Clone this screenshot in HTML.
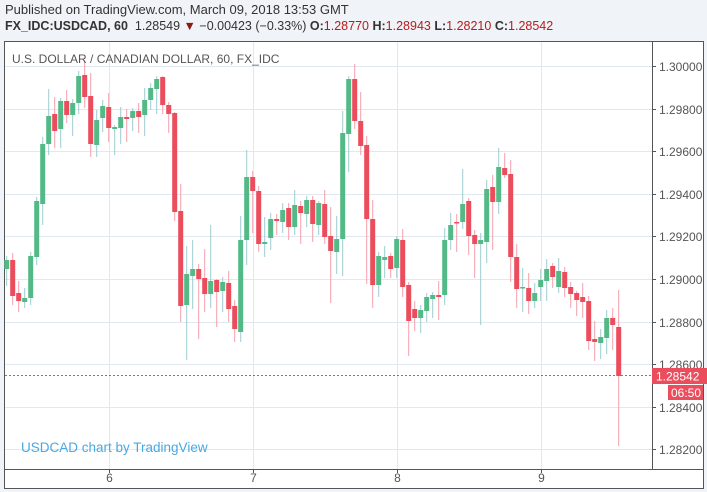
<!DOCTYPE html>
<html><head><meta charset="utf-8"><style>
body{margin:0;width:707px;height:492px;background:#f0f3f7;overflow:hidden;font-family:"Liberation Sans",sans-serif}
.h1{position:absolute;left:5px;top:2px;font-size:13px;color:#333}
.h2{position:absolute;left:5px;top:19px;font-size:12.5px;color:#333}
.r{color:#b71c1c}
</style></head><body>
<div class="h1">Published on TradingView.com, March 09, 2018 13:53 GMT</div>
<div class="h2"><b>FX_IDC:USDCAD, 60</b>&nbsp; 1.28549 <span style="color:#8b1a10">▼</span> −0.00423 (−0.33%) <b>O:</b><span class="r">1.28770</span> <b>H:</b><span class="r">1.28943</span> <b>L:</b><span class="r">1.28210</span> <b>C:</b><span class="r">1.28542</span></div>
<svg id="s" width="707" height="492" style="position:absolute;left:0;top:0" xmlns="http://www.w3.org/2000/svg">
<rect x="4.5" y="41.5" width="699" height="447" fill="#fff" stroke="#555" stroke-width="1"/>
<g id="grid" stroke="#e1e8ef" stroke-width="1"></g>
<g id="c"></g>
<line x1="5" y1="375.5" x2="652" y2="375.5" stroke="#e24b57" stroke-dasharray="2,2"/>
<line x1="652.5" y1="41" x2="652.5" y2="469" stroke="#555"/>
<line x1="5" y1="469.5" x2="703" y2="469.5" stroke="#555"/>
<g id="ax" font-size="12" fill="#555" font-family="Liberation Sans, sans-serif"></g>
<text x="12" y="63" font-size="12" fill="#555">U.S. DOLLAR / CANADIAN DOLLAR, 60, FX_IDC</text>
<text x="21" y="452" font-size="13.5" fill="#4aa8e0">USDCAD chart by TradingView</text>
<rect x="652" y="368" width="55" height="16" fill="#eb4d5c"/>
<text x="656" y="380.5" font-size="12" fill="#fff">1.28542</text>
<rect x="668" y="385" width="35" height="15" fill="#eb4d5c"/>
<text x="671" y="397" font-size="12" fill="#fff">06:50</text>
</svg>
<script>
var d=[
"G260 269 256 286","R260 296 253 305","R293 301 281 312","G298 302 288 308","G256 298 252 305","G201 257 197 265","G144 204 137 225","G116 144 89 155","R114 131 97 148","G101 129 98 148",
"R101 115 90 123","G103 115 99 136","G76 103 71 114","R75 97 60 108","R96 144 73 157","G120 145 110 157","G106 118 100 132","R107 128 93 142","G127 129 125 155","G117 128 107 144",
"R117 119 109 142","G111 118 108 131","R111 117 103 133","G100 115 88 136","G88 100 83 110","G79 89 76 114","R77 105 76 114","R105 114 102 133","R113 212 112 221","R211 306 184 322",
"G274 305 246 360","G269 276 240 309","R269 279 264 339","R278 294 249 312","G281 294 225 308","R280 292 279 327","G282 291 277 312","R283 309 271 322","R306 329 300 342","G240 332 216 342",
"G177 240 150 265","R177 191 171 233","R191 244 186 252","G242 244 217 257","G219 238 213 250","R219 221 214 235","G210 222 203 233","R208 227 203 240","G205 227 190 235","R206 213 201 244",
"G200 214 196 227","R200 224 196 242","G203 225 201 235","R204 237 190 244","R236 251 207 303","G239 252 216 274","G133 239 111 276","G79 134 76 172","R79 121 64 129","R121 146 92 155",
"R145 219 136 284","R219 285 200 308","G256 285 252 297","G257 260 246 278","R256 269 253 278","G239 268 236 278","R240 287 229 297","R285 321 282 356","R309 318 301 331","G310 318 305 333",
"G297 311 293 322","G295 299 292 318","R295 297 281 320","G240 295 228 305","G225 240 213 250","R222 223 214 252","G204 222 169 229","R201 236 198 255","R235 244 230 278","G240 244 233 325",
"G189 242 180 263","R187 202 175 250","G167 202 148 214","R168 175 153 178","R174 257 160 282","R257 289 244 308","G287 288 268 312","R288 301 273 314","G293 301 283 308","G280 287 269 301",
"G269 281 259 301","R266 277 263 288","G271 287 258 293","R272 288 267 297","R287 294 282 308","R293 300 291 316","R297 302 283 318","R301 341 296 350","R339 342 321 361","G337 343 329 359",
"G318 338 310 354","R318 325 308 350","R327 376 290 446"];
var ns="http://www.w3.org/2000/svg",c=document.getElementById("c"),g=document.getElementById("grid"),ax=document.getElementById("ax");
function el(p,t,a){var e=document.createElementNS(ns,t);for(var k in a)e.setAttribute(k,a[k]);p.appendChild(e);return e;}
var labs=["1.30000","1.29800","1.29600","1.29400","1.29200","1.29000","1.28800","1.28600","1.28400","1.28200"];
for(var i=0;i<10;i++){var y=Math.round(66+i*42.6)+0.5;el(g,"line",{x1:5,x2:652,y1:y,y2:y});el(ax,"line",{x1:652,x2:656,y1:y,y2:y,stroke:"#555"});var t=el(ax,"text",{x:659,y:y+4.5});t.textContent=labs[i];}
var vx=[109.5,253.5,397.5,541.5],vl=["6","7","8","9"];
for(var i=0;i<4;i++){el(g,"line",{x1:vx[i],x2:vx[i],y1:42,y2:469});el(ax,"line",{x1:vx[i],x2:vx[i],y1:469,y2:473,stroke:"#555"});var t=el(ax,"text",{x:vx[i],y:482,"text-anchor":"middle"});t.textContent=vl[i];}
d.forEach(function(s,i){var col=s[0],v=s.slice(1).split(" ").map(Number);var x=6.7+i*6;
el(c,"line",{x1:x,x2:x,y1:v[2],y2:v[3],stroke:col=="G"?"#9cccd0":"#f5a0aa","stroke-width":1});
el(c,"rect",{x:x-2.5,y:v[0],width:5,height:Math.max(1.5,v[1]-v[0]),fill:col=="G"?"#53b987":"#eb4d5c"});});
</script>
</body></html>
